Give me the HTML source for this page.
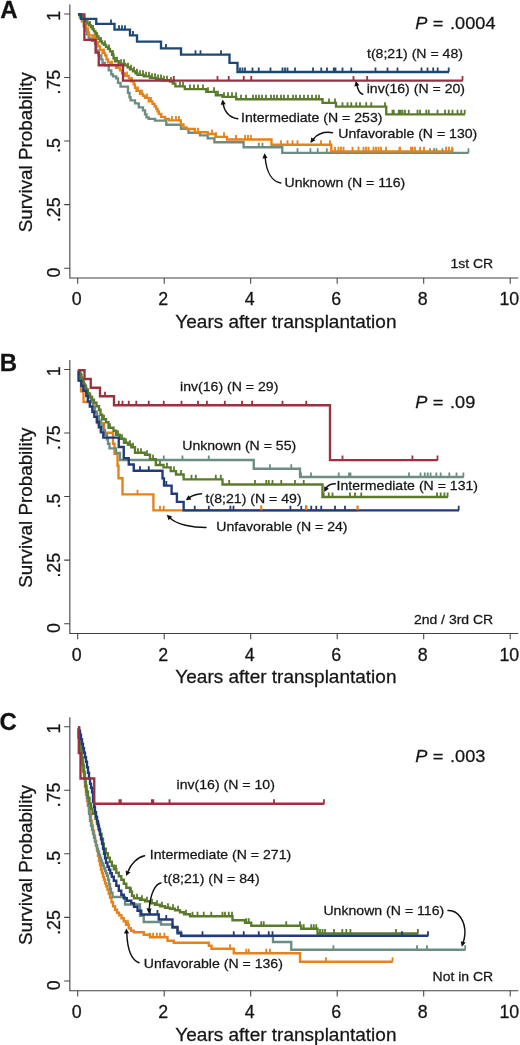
<!DOCTYPE html>
<html><head><meta charset="utf-8"><title>Survival</title>
<style>html,body{margin:0;padding:0;background:#fff}svg{display:block;will-change:transform}text{font-family:"Liberation Sans",sans-serif;stroke:#1a1a1a;stroke-width:.28px}</style>
</head><body>
<svg width="520" height="1045" viewBox="0 0 520 1045">
<rect width="520" height="1045" fill="#fff"/>
<path d="M69.85 4.50 V278.00 H518.3" fill="none" stroke="#424242" stroke-width="1.1"/>
<path d="M64.2 13.90 H69.85M64.2 77.48 H69.85M64.2 141.06 H69.85M64.2 204.64 H69.85M64.2 268.22 H69.85M77.70 278.00 v5.8M164.20 278.00 v5.8M250.70 278.00 v5.8M337.20 278.00 v5.8M423.70 278.00 v5.8M510.20 278.00 v5.8" fill="none" stroke="#424242" stroke-width="1.05"/>
<text transform="translate(76.80 305.10) scale(1 1.000)" font-size="17.8" text-anchor="middle" fill="#141414" >0</text>
<text transform="translate(163.30 305.10) scale(1 1.000)" font-size="17.8" text-anchor="middle" fill="#141414" >2</text>
<text transform="translate(249.80 305.10) scale(1 1.000)" font-size="17.8" text-anchor="middle" fill="#141414" >4</text>
<text transform="translate(336.30 305.10) scale(1 1.000)" font-size="17.8" text-anchor="middle" fill="#141414" >6</text>
<text transform="translate(422.80 305.10) scale(1 1.000)" font-size="17.8" text-anchor="middle" fill="#141414" >8</text>
<text transform="translate(509.30 305.10) scale(1 1.000)" font-size="17.8" text-anchor="middle" fill="#141414" >10</text>
<text transform="translate(285.90 327.80) scale(1 1.000)" font-size="19.0" text-anchor="middle" fill="#141414" >Years after transplantation</text>
<text transform="translate(60.1 15.80) rotate(-90) scale(1 1.05)" font-size="17.8" text-anchor="middle" fill="#141414">1</text>
<text transform="translate(60.1 82.10) rotate(-90) scale(1 1.05)" font-size="17.8" text-anchor="middle" fill="#141414">.75</text>
<text transform="translate(60.1 145.40) rotate(-90) scale(1 1.05)" font-size="17.8" text-anchor="middle" fill="#141414">.5</text>
<text transform="translate(60.1 209.70) rotate(-90) scale(1 1.05)" font-size="17.8" text-anchor="middle" fill="#141414">.25</text>
<text transform="translate(60.1 272.50) rotate(-90) scale(1 1.05)" font-size="17.8" text-anchor="middle" fill="#141414">0</text>
<text transform="translate(32.1 152.20) rotate(-90)" font-size="18.82" text-anchor="middle" fill="#141414">Survival Probability</text>
<text x="0.30" y="17.50" font-size="24" font-weight="bold" fill="#111">A</text>
<text transform="translate(493.20 268.00) scale(1 0.950)" font-size="14" text-anchor="end" fill="#141414" >1st CR</text>
<path d="M78.00 14.40 H80.00 V17.40 H82.00 V21.40 H83.75 V26.40 H85.00 V30.40 H87.00 V34.40 H88.75 V38.40 H92.00 V40.90 H95.00 V43.40 H96.25 V50.40 H98.50 V55.40 H101.25 V59.40 H102.50 V62.90 H105.00 V65.40 H108.75 V70.40 H111.25 V74.40 H113.00 V76.40 H116.25 V78.40 H118.00 V82.90 H120.50 V86.65 H128.00 V92.90 H129.50 V97.40 H130.60 V100.40 H135.00 V103.40 H138.75 V107.40 H143.00 V110.40 H145.00 V114.40 H146.50 V117.40 H148.75 V118.90 H155.00 V120.60 H166.30 V124.70 H181.00 V128.90 H188.50 V132.70 H200.00 V135.40 H207.70 V138.40 H214.40 V142.20 H243.60 V147.20 H282.30 V152.80 H468.75" fill="none" stroke="#6d8d83" stroke-width="2.35" stroke-linejoin="miter"/>
<path d="M258.75 147.20 v-4.5M262.50 147.20 v-4.5M297.50 152.80 v-4.5M310.40 152.80 v-4.5M317.70 152.80 v-4.5M326.80 152.80 v-4.5M430.00 152.80 v-4.5M434.00 152.80 v-4.5M436.50 152.80 v-4.5M442.50 152.80 v-4.5M452.50 152.80 v-4.5M468.45 152.80 v-4.5" fill="none" stroke="#6d8d83" stroke-width="1.8"/>
<path d="M78.00 14.40 H80.00 V17.40 H82.00 V20.90 H84.00 V24.40 H86.25 V28.40 H88.00 V32.40 H89.00 V35.40 H93.00 V37.90 H96.25 V42.40 H98.00 V46.40 H100.00 V49.90 H102.50 V52.90 H105.00 V55.40 H106.50 V59.40 H108.00 V62.40 H110.50 V64.90 H116.00 V67.90 H120.00 V70.40 H122.00 V73.40 H125.00 V75.90 H128.75 V78.40 H131.00 V81.40 H133.75 V84.40 H135.00 V87.90 H136.50 V90.90 H140.00 V93.90 H143.00 V95.90 H145.00 V97.90 H148.75 V101.40 H152.50 V103.90 H154.50 V106.40 H156.25 V108.90 H157.50 V111.40 H158.75 V113.90 H161.25 V116.90 H165.00 V118.90 H169.00 V120.40 H180.80 V124.40 H183.50 V127.40 H186.50 V129.00 H195.00 V132.20 H207.70 V134.00 H215.40 V136.80 H227.00 V139.50 H271.50 V144.70 H331.30 V151.30 H452.50" fill="none" stroke="#e5821a" stroke-width="2.35" stroke-linejoin="miter"/>
<path d="M95.00 37.90 v-4.5M104.00 52.90 v-4.5M112.00 64.90 v-4.5M118.00 67.90 v-4.5M127.00 75.90 v-4.5M132.00 81.40 v-4.5M138.00 90.90 v-4.5M142.00 93.90 v-4.5M147.00 97.90 v-4.5M151.00 101.40 v-4.5M172.00 120.40 v-4.5M176.00 120.40 v-4.5M179.00 120.40 v-4.5M198.00 132.20 v-4.5M212.00 134.00 v-4.5M216.00 136.80 v-4.5M224.00 136.80 v-4.5M236.00 139.50 v-4.5M245.00 139.50 v-4.5M248.00 139.50 v-4.5M251.00 139.50 v-4.5M281.00 144.70 v-4.5M287.50 144.70 v-4.5M292.50 144.70 v-4.5M297.50 144.70 v-4.5M321.00 144.70 v-4.5M330.00 144.70 v-4.5M335.00 151.30 v-4.5M338.50 151.30 v-4.5M341.00 151.30 v-4.5M343.50 151.30 v-4.5M352.50 151.30 v-4.5M358.50 151.30 v-4.5M363.50 151.30 v-4.5M366.00 151.30 v-4.5M368.50 151.30 v-4.5M373.50 151.30 v-4.5M376.00 151.30 v-4.5M378.50 151.30 v-4.5M381.00 151.30 v-4.5M386.00 151.30 v-4.5M400.00 151.30 v-4.5M412.50 151.30 v-4.5M415.00 151.30 v-4.5M420.00 151.30 v-4.5M424.00 151.30 v-4.5M399.50 151.30 v-4.5M411.00 151.30 v-4.5M446.00 151.30 v-4.5M449.00 151.30 v-4.5M452.20 151.30 v-4.5" fill="none" stroke="#e5821a" stroke-width="1.8"/>
<path d="M78.00 14.40 H80.00 V15.40 H82.00 V17.40 H84.00 V19.40 H86.00 V21.40 H87.50 V23.40 H89.00 V25.40 H91.00 V27.40 H92.50 V29.40 H94.00 V31.40 H95.50 V33.90 H97.00 V36.40 H98.50 V38.90 H100.00 V41.40 H102.00 V43.40 H104.00 V44.90 H106.00 V46.90 H108.00 V48.90 H110.00 V51.40 H112.00 V54.70 H113.50 V58.20 H115.00 V61.20 H118.75 V63.80 H125.00 V65.30 H127.50 V67.30 H130.00 V69.30 H133.00 V71.30 H135.50 V73.30 H137.50 V74.80 H143.75 V76.30 H150.00 V77.80 H156.00 V79.00 H162.50 V80.20 H170.00 V81.60 H172.80 V83.60 H175.40 V86.40 H184.80 V89.10 H206.30 V91.80 H215.80 V95.20 H222.50 V96.80 H236.20 V99.20 H322.50 V102.90 H336.00 V106.65 H386.25 V114.30 H465.00" fill="none" stroke="#5b7b2c" stroke-width="2.35" stroke-linejoin="miter"/>
<path d="M90.00 25.40 v-4.5M93.00 29.40 v-4.5M97.00 36.40 v-4.5M101.00 41.40 v-4.5M105.00 44.90 v-4.5M109.00 48.90 v-4.5M113.00 54.70 v-4.5M117.00 61.20 v-4.5M121.00 63.80 v-4.5M124.00 63.80 v-4.5M128.00 67.30 v-4.5M131.00 69.30 v-4.5M134.00 71.30 v-4.5M137.00 73.30 v-4.5M140.00 74.80 v-4.5M143.00 74.80 v-4.5M146.00 76.30 v-4.5M149.00 76.30 v-4.5M152.00 77.80 v-4.5M155.00 77.80 v-4.5M158.00 79.00 v-4.5M161.00 79.00 v-4.5M164.00 80.20 v-4.5M167.00 80.20 v-4.5M171.00 81.60 v-4.5M174.00 83.60 v-4.5M180.00 86.40 v-4.5M183.00 86.40 v-4.5M190.00 89.10 v-4.5M194.00 89.10 v-4.5M198.00 89.10 v-4.5M203.00 89.10 v-4.5M208.00 91.80 v-4.5M214.00 91.80 v-4.5M218.00 95.20 v-4.5M224.00 96.80 v-4.5M228.00 96.80 v-4.5M232.00 96.80 v-4.5M236.00 96.80 v-4.5M241.00 99.20 v-4.5M246.00 99.20 v-4.5M253.00 99.20 v-4.5M256.00 99.20 v-4.5M259.00 99.20 v-4.5M262.00 99.20 v-4.5M266.00 99.20 v-4.5M271.00 99.20 v-4.5M274.00 99.20 v-4.5M277.00 99.20 v-4.5M281.00 99.20 v-4.5M284.00 99.20 v-4.5M288.00 99.20 v-4.5M293.00 99.20 v-4.5M296.00 99.20 v-4.5M300.00 99.20 v-4.5M304.00 99.20 v-4.5M308.00 99.20 v-4.5M312.00 99.20 v-4.5M316.00 99.20 v-4.5M319.00 99.20 v-4.5M329.00 102.90 v-4.5M335.00 102.90 v-4.5M342.50 106.65 v-4.5M347.50 106.65 v-4.5M351.25 106.65 v-4.5M356.25 106.65 v-4.5M360.00 106.65 v-4.5M366.25 106.65 v-4.5M371.25 106.65 v-4.5M385.00 106.65 v-4.5M392.50 114.30 v-4.5M393.75 114.30 v-4.5M398.75 114.30 v-4.5M400.50 114.30 v-4.5M402.50 114.30 v-4.5M405.00 114.30 v-4.5M408.75 114.30 v-4.5M417.50 114.30 v-4.5M420.00 114.30 v-4.5M426.25 114.30 v-4.5M428.75 114.30 v-4.5M437.50 114.30 v-4.5M445.00 114.30 v-4.5M448.75 114.30 v-4.5M452.50 114.30 v-4.5M457.50 114.30 v-4.5M461.25 114.30 v-4.5M464.70 114.30 v-4.5" fill="none" stroke="#5b7b2c" stroke-width="1.8"/>
<path d="M78.00 14.40 H84.40 V39.80 H95.60 V52.50 H98.75 V65.20 H123.00 V80.60 H462.80" fill="none" stroke="#9a3040" stroke-width="2.35" stroke-linejoin="miter"/>
<path d="M173.75 80.60 v-4.5M217.50 80.60 v-4.5M228.75 80.60 v-4.5M243.75 80.60 v-4.5M251.25 80.60 v-4.5M353.50 80.60 v-4.5M367.20 80.60 v-4.5M462.50 80.60 v-4.5" fill="none" stroke="#9a3040" stroke-width="1.8"/>
<path d="M78.00 14.40 H81.00 V18.90 H96.25 V23.90 H114.50 V29.65 H130.00 V35.40 H137.00 V41.65 H161.00 V48.40 H181.00 V54.65 H229.50 V62.90 H237.50 V72.00 H449.00" fill="none" stroke="#1c4873" stroke-width="2.35" stroke-linejoin="miter"/>
<path d="M111.00 23.90 v-4.5M119.00 29.65 v-4.5M122.00 29.65 v-4.5M125.00 29.65 v-4.5M133.00 35.40 v-4.5M166.00 48.40 v-4.5M195.50 54.65 v-4.5M200.50 54.65 v-4.5M221.00 54.65 v-4.5M240.00 72.00 v-4.5M242.50 72.00 v-4.5M245.00 72.00 v-4.5M252.50 72.00 v-4.5M258.75 72.00 v-4.5M270.50 72.00 v-4.5M282.50 72.00 v-4.5M285.00 72.00 v-4.5M287.50 72.00 v-4.5M295.00 72.00 v-4.5M313.00 72.00 v-4.5M321.25 72.00 v-4.5M327.00 72.00 v-4.5M333.75 72.00 v-4.5M335.50 72.00 v-4.5M342.50 72.00 v-4.5M351.25 72.00 v-4.5M375.50 72.00 v-4.5M387.50 72.00 v-4.5M397.50 72.00 v-4.5M421.50 72.00 v-4.5M427.50 72.00 v-4.5M433.20 72.00 v-4.5M437.70 72.00 v-4.5M448.70 72.00 v-4.5" fill="none" stroke="#1c4873" stroke-width="1.8"/>
<text transform="translate(367.00 58.20) scale(1 0.950)" font-size="14.1" text-anchor="start" fill="#141414" >t(8;21) (N = 48)</text>
<text transform="translate(366.70 93.40) scale(1 0.950)" font-size="14.1" text-anchor="start" fill="#141414" >inv(16) (N = 20)</text>
<text transform="translate(241.00 121.90) scale(1 0.950)" font-size="14.1" text-anchor="start" fill="#141414" >Intermediate (N = 253)</text>
<text transform="translate(338.20 138.20) scale(1 0.950)" font-size="14.1" text-anchor="start" fill="#141414" >Unfavorable (N = 130)</text>
<text transform="translate(284.50 186.80) scale(1 0.950)" font-size="14.1" text-anchor="start" fill="#141414" >Unknown (N = 116)</text>
<g transform="translate(0 28.90) scale(1 0.93)" font-size="18.2" fill="#141414"><text x="415.3" y="0" font-style="italic">P</text><text x="432.7" y="0">=</text><text x="450.0" y="0">.0004</text></g>
<path d="M237.7 118.8 C229 117.5 224 111 223.1 103.5" fill="none" stroke="#111" stroke-width="1.45" stroke-linecap="round"/>
<path d="M0.3 0 L-4.8 -2.6 L-4.8 2.6 Z" fill="#111" transform="translate(222.70 99.70) rotate(-96.0)"/>
<path d="M362.7 94.3 C359.8 93.2 357.8 89.5 357 85.3" fill="none" stroke="#111" stroke-width="1.45" stroke-linecap="round"/>
<path d="M0.3 0 L-4.8 -2.6 L-4.8 2.6 Z" fill="#111" transform="translate(355.90 81.20) rotate(-102.0)"/>
<path d="M332.5 132.7 C323 131 316 135 313.5 139" fill="none" stroke="#111" stroke-width="1.45" stroke-linecap="round"/>
<path d="M0.3 0 L-4.8 -2.6 L-4.8 2.6 Z" fill="#111" transform="translate(310.60 142.80) rotate(125.0)"/>
<path d="M280.8 183 C272 181.5 266.5 172 265.2 158" fill="none" stroke="#111" stroke-width="1.45" stroke-linecap="round"/>
<path d="M0.3 0 L-4.8 -2.6 L-4.8 2.6 Z" fill="#111" transform="translate(264.60 153.50) rotate(-94.0)"/>
<path d="M69.85 360.00 V633.50 H518.3" fill="none" stroke="#424242" stroke-width="1.1"/>
<path d="M64.2 369.40 H69.85M64.2 432.98 H69.85M64.2 496.56 H69.85M64.2 560.14 H69.85M64.2 623.72 H69.85M77.70 633.50 v5.8M164.20 633.50 v5.8M250.70 633.50 v5.8M337.20 633.50 v5.8M423.70 633.50 v5.8M510.20 633.50 v5.8" fill="none" stroke="#424242" stroke-width="1.05"/>
<text transform="translate(76.80 660.60) scale(1 1.000)" font-size="17.8" text-anchor="middle" fill="#141414" >0</text>
<text transform="translate(163.30 660.60) scale(1 1.000)" font-size="17.8" text-anchor="middle" fill="#141414" >2</text>
<text transform="translate(249.80 660.60) scale(1 1.000)" font-size="17.8" text-anchor="middle" fill="#141414" >4</text>
<text transform="translate(336.30 660.60) scale(1 1.000)" font-size="17.8" text-anchor="middle" fill="#141414" >6</text>
<text transform="translate(422.80 660.60) scale(1 1.000)" font-size="17.8" text-anchor="middle" fill="#141414" >8</text>
<text transform="translate(509.30 660.60) scale(1 1.000)" font-size="17.8" text-anchor="middle" fill="#141414" >10</text>
<text transform="translate(285.90 683.30) scale(1 1.000)" font-size="19.0" text-anchor="middle" fill="#141414" >Years after transplantation</text>
<text transform="translate(60.1 371.30) rotate(-90) scale(1 1.05)" font-size="17.8" text-anchor="middle" fill="#141414">1</text>
<text transform="translate(60.1 437.60) rotate(-90) scale(1 1.05)" font-size="17.8" text-anchor="middle" fill="#141414">.75</text>
<text transform="translate(60.1 500.90) rotate(-90) scale(1 1.05)" font-size="17.8" text-anchor="middle" fill="#141414">.5</text>
<text transform="translate(60.1 565.20) rotate(-90) scale(1 1.05)" font-size="17.8" text-anchor="middle" fill="#141414">.25</text>
<text transform="translate(60.1 628.00) rotate(-90) scale(1 1.05)" font-size="17.8" text-anchor="middle" fill="#141414">0</text>
<text transform="translate(32.1 507.70) rotate(-90)" font-size="18.82" text-anchor="middle" fill="#141414">Survival Probability</text>
<text x="-0.20" y="371.20" font-size="24" font-weight="bold" fill="#111">B</text>
<text transform="translate(493.20 623.50) scale(1 0.950)" font-size="14" text-anchor="end" fill="#141414" >2nd / 3rd CR</text>
<path d="M78.00 370.20 H79.50 V380.80 H81.00 V391.40 H83.50 V401.95 H93.50 V412.50 H97.00 V423.10 H104.00 V432.70 H113.00 V443.70 H114.50 V453.70 H117.50 V465.70 H118.50 V478.20 H122.50 V494.30 H153.40 V510.30 H358.00" fill="none" stroke="#e5821a" stroke-width="2.35" stroke-linejoin="miter"/>
<path d="M137.50 494.30 v-4.5M160.00 510.30 v-4.5M163.75 510.30 v-4.5M261.25 510.30 v-4.5M306.25 510.30 v-4.5M357.70 510.30 v-4.5" fill="none" stroke="#e5821a" stroke-width="1.8"/>
<path d="M78.00 370.20 H80.00 V374.70 H81.50 V379.40 H83.00 V384.00 H85.00 V388.70 H87.00 V393.20 H89.00 V397.70 H91.00 V402.40 H93.00 V407.00 H95.00 V411.70 H97.00 V416.20 H99.00 V420.70 H101.00 V425.40 H103.00 V430.00 H105.00 V434.70 H107.00 V439.20 H108.00 V443.70 H109.50 V448.40 H116.00 V453.00 H120.00 V460.00 H253.75 V468.70 H300.00 V476.95 H463.70" fill="none" stroke="#6d8d83" stroke-width="2.35" stroke-linejoin="miter"/>
<path d="M163.75 460.00 v-4.5M182.50 460.00 v-4.5M208.75 460.00 v-4.5M270.00 468.70 v-4.5M291.25 468.70 v-4.5M301.00 476.95 v-4.5M311.00 476.95 v-4.5M338.75 476.95 v-4.5M349.00 476.95 v-4.5M350.50 476.95 v-4.5M409.00 476.95 v-4.5M420.50 476.95 v-4.5M424.80 476.95 v-4.5M427.70 476.95 v-4.5M430.60 476.95 v-4.5M436.30 476.95 v-4.5M440.70 476.95 v-4.5M449.30 476.95 v-4.5M456.50 476.95 v-4.5M463.40 476.95 v-4.5" fill="none" stroke="#6d8d83" stroke-width="1.8"/>
<path d="M78.00 370.20 H79.50 V373.70 H81.00 V377.70 H82.50 V381.70 H84.00 V385.70 H86.00 V389.70 H88.00 V393.70 H90.00 V396.70 H92.00 V399.70 H94.00 V402.70 H96.50 V406.20 H99.00 V409.70 H100.50 V414.70 H102.25 V419.20 H106.00 V422.20 H108.50 V427.70 H113.50 V430.70 H116.00 V434.70 H119.75 V438.70 H124.00 V442.70 H128.00 V444.70 H131.25 V447.20 H135.00 V452.70 H145.00 V454.70 H150.00 V459.20 H155.80 V465.00 H163.50 V467.30 H170.70 V471.10 H176.00 V474.50 H183.65 V479.30 H222.50 V484.45 H322.50 V497.00 H447.90" fill="none" stroke="#5b7b2c" stroke-width="2.35" stroke-linejoin="miter"/>
<path d="M104.00 419.20 v-4.5M110.00 427.70 v-4.5M118.00 434.70 v-4.5M122.00 438.70 v-4.5M126.00 442.70 v-4.5M130.00 444.70 v-4.5M133.00 447.20 v-4.5M138.00 452.70 v-4.5M141.00 452.70 v-4.5M147.00 454.70 v-4.5M153.00 459.20 v-4.5M160.00 465.00 v-4.5M167.00 467.30 v-4.5M174.00 471.10 v-4.5M181.00 474.50 v-4.5M191.50 479.30 v-4.5M195.80 479.30 v-4.5M215.80 479.30 v-4.5M220.80 479.30 v-4.5M229.20 484.45 v-4.5M255.00 484.45 v-4.5M266.25 484.45 v-4.5M268.75 484.45 v-4.5M272.50 484.45 v-4.5M281.25 484.45 v-4.5M295.00 484.45 v-4.5M303.75 484.45 v-4.5M323.75 497.00 v-4.5M328.75 497.00 v-4.5M332.50 497.00 v-4.5M350.00 497.00 v-4.5M355.00 497.00 v-4.5M361.25 497.00 v-4.5M437.00 497.00 v-4.5M440.70 497.00 v-4.5M444.40 497.00 v-4.5M447.60 497.00 v-4.5" fill="none" stroke="#5b7b2c" stroke-width="1.8"/>
<path d="M78.00 370.20 H78.50 V380.60 H81.30 V385.70 H83.30 V390.90 H86.30 V396.10 H87.80 V401.30 H89.80 V406.50 H92.30 V411.70 H94.30 V416.80 H96.80 V422.00 H98.80 V427.20 H100.80 V432.40 H103.30 V437.60 H118.75 V446.95 H123.75 V458.20 H128.75 V464.45 H133.75 V470.70 H162.50 V478.30 H164.00 V485.60 H171.60 V493.70 H176.90 V501.90 H183.65 V510.30 H459.00" fill="none" stroke="#213a78" stroke-width="2.35" stroke-linejoin="miter"/>
<path d="M140.00 470.70 v-4.5M148.75 470.70 v-4.5M166.30 485.60 v-4.5M194.70 510.30 v-4.5M208.80 510.30 v-4.5M230.40 510.30 v-4.5M233.50 510.30 v-4.5M290.40 510.30 v-4.5M301.25 510.30 v-4.5M306.25 510.30 v-4.5M311.25 510.30 v-4.5M316.25 510.30 v-4.5M321.25 510.30 v-4.5M335.00 510.30 v-4.5M345.00 510.30 v-4.5M458.70 510.30 v-4.5" fill="none" stroke="#213a78" stroke-width="1.8"/>
<path d="M261.25 510.30 v-4.8M306.25 510.30 v-4.8M357.5 510.30 v-4.8" fill="none" stroke="#e5821a" stroke-width="1.8"/>
<path d="M78.00 370.20 H84.50 V379.00 H90.75 V387.70 H100.00 V396.20 H114.00 V405.20 H330.00 V460.10 H437.80" fill="none" stroke="#9a3040" stroke-width="2.35" stroke-linejoin="miter"/>
<path d="M105.00 396.20 v-4.5M118.75 405.20 v-4.5M122.50 405.20 v-4.5M128.75 405.20 v-4.5M136.25 405.20 v-4.5M148.75 405.20 v-4.5M163.75 405.20 v-4.5M181.50 405.20 v-4.5M198.00 405.20 v-4.5M206.90 405.20 v-4.5M224.80 405.20 v-4.5M242.00 405.20 v-4.5M252.10 405.20 v-4.5M282.50 405.20 v-4.5M306.25 405.20 v-4.5M342.50 460.10 v-4.5M412.40 460.10 v-4.5M437.50 460.10 v-4.5" fill="none" stroke="#9a3040" stroke-width="1.8"/>
<text transform="translate(180.00 391.30) scale(1 0.950)" font-size="14.1" text-anchor="start" fill="#141414" >inv(16) (N = 29)</text>
<text transform="translate(182.20 449.80) scale(1 0.950)" font-size="14.1" text-anchor="start" fill="#141414" >Unknown (N = 55)</text>
<text transform="translate(336.60 490.20) scale(1 0.950)" font-size="14.1" text-anchor="start" fill="#141414" >Intermediate (N = 131)</text>
<text transform="translate(205.60 502.60) scale(1 0.950)" font-size="14.1" text-anchor="start" fill="#141414" >t(8;21) (N = 49)</text>
<text transform="translate(216.25 530.50) scale(1 0.950)" font-size="14.1" text-anchor="start" fill="#141414" >Unfavorable (N = 24)</text>
<g transform="translate(0 407.90) scale(1 0.93)" font-size="18.2" fill="#141414"><text x="415.3" y="0" font-style="italic">P</text><text x="432.7" y="0">=</text><text x="450.0" y="0">.09</text></g>
<path d="M335.4 483.7 C330.5 483.8 327.5 485.5 326 488.3" fill="none" stroke="#111" stroke-width="1.45" stroke-linecap="round"/>
<path d="M0.3 0 L-4.8 -2.6 L-4.8 2.6 Z" fill="#111" transform="translate(324.30 491.80) rotate(118.0)"/>
<path d="M201.5 493.7 C196.5 494 192 495.6 189.3 497.6" fill="none" stroke="#111" stroke-width="1.45" stroke-linecap="round"/>
<path d="M0.3 0 L-4.8 -2.6 L-4.8 2.6 Z" fill="#111" transform="translate(186.00 500.10) rotate(145.0)"/>
<path d="M206 527.5 C192 527.5 177 524.5 170.3 518.2" fill="none" stroke="#111" stroke-width="1.45" stroke-linecap="round"/>
<path d="M0.3 0 L-4.8 -2.6 L-4.8 2.6 Z" fill="#111" transform="translate(167.00 515.00) rotate(-135.0)"/>
<path d="M69.85 717.25 V990.75 H518.3" fill="none" stroke="#424242" stroke-width="1.1"/>
<path d="M64.2 726.65 H69.85M64.2 790.23 H69.85M64.2 853.81 H69.85M64.2 917.39 H69.85M64.2 980.97 H69.85M77.70 990.75 v5.8M164.20 990.75 v5.8M250.70 990.75 v5.8M337.20 990.75 v5.8M423.70 990.75 v5.8M510.20 990.75 v5.8" fill="none" stroke="#424242" stroke-width="1.05"/>
<text transform="translate(76.80 1017.85) scale(1 1.000)" font-size="17.8" text-anchor="middle" fill="#141414" >0</text>
<text transform="translate(163.30 1017.85) scale(1 1.000)" font-size="17.8" text-anchor="middle" fill="#141414" >2</text>
<text transform="translate(249.80 1017.85) scale(1 1.000)" font-size="17.8" text-anchor="middle" fill="#141414" >4</text>
<text transform="translate(336.30 1017.85) scale(1 1.000)" font-size="17.8" text-anchor="middle" fill="#141414" >6</text>
<text transform="translate(422.80 1017.85) scale(1 1.000)" font-size="17.8" text-anchor="middle" fill="#141414" >8</text>
<text transform="translate(509.30 1017.85) scale(1 1.000)" font-size="17.8" text-anchor="middle" fill="#141414" >10</text>
<text transform="translate(285.90 1040.55) scale(1 1.000)" font-size="19.0" text-anchor="middle" fill="#141414" >Years after transplantation</text>
<text transform="translate(60.1 728.55) rotate(-90) scale(1 1.05)" font-size="17.8" text-anchor="middle" fill="#141414">1</text>
<text transform="translate(60.1 794.85) rotate(-90) scale(1 1.05)" font-size="17.8" text-anchor="middle" fill="#141414">.75</text>
<text transform="translate(60.1 858.15) rotate(-90) scale(1 1.05)" font-size="17.8" text-anchor="middle" fill="#141414">.5</text>
<text transform="translate(60.1 922.45) rotate(-90) scale(1 1.05)" font-size="17.8" text-anchor="middle" fill="#141414">.25</text>
<text transform="translate(60.1 985.25) rotate(-90) scale(1 1.05)" font-size="17.8" text-anchor="middle" fill="#141414">0</text>
<text transform="translate(32.1 864.95) rotate(-90)" font-size="18.82" text-anchor="middle" fill="#141414">Survival Probability</text>
<text x="-0.50" y="730.00" font-size="24" font-weight="bold" fill="#111">C</text>
<text transform="translate(493.20 980.75) scale(1 0.950)" font-size="14" text-anchor="end" fill="#141414" >Not in CR</text>
<path d="M78.00 727.70 H79.00 V735.70 H80.00 V745.70 H81.00 V754.70 H82.00 V762.70 H83.00 V770.70 H84.00 V778.70 H85.00 V786.70 H86.00 V794.70 H87.00 V800.70 H88.00 V805.70 H89.00 V810.70 H90.00 V815.70 H91.00 V820.70 H92.00 V825.70 H93.00 V830.70 H94.00 V835.70 H95.00 V840.70 H96.00 V845.70 H97.00 V850.70 H98.00 V855.70 H99.00 V860.70 H100.00 V865.20 H101.00 V869.70 H102.00 V873.20 H103.00 V876.70 H104.00 V879.70 H105.00 V883.20 H106.25 V886.20 H107.50 V889.70 H108.75 V893.70 H110.00 V897.70 H111.50 V902.20 H113.00 V906.20 H115.00 V909.70 H117.00 V912.70 H119.00 V915.20 H121.50 V918.20 H123.75 V921.20 H126.00 V924.70 H128.75 V928.20 H131.00 V930.70 H133.75 V932.20 H143.75 V934.70 H150.00 V937.20 H167.50 V940.70 H173.75 V942.70 H208.75 V945.70 H211.50 V948.70 H233.75 V953.20 H300.00 V961.70 H392.80" fill="none" stroke="#e5821a" stroke-width="2.35" stroke-linejoin="miter"/>
<path d="M128.00 924.70 v-4.5M150.00 937.20 v-4.5M153.10 937.20 v-4.5M156.90 937.20 v-4.5M160.00 937.20 v-4.5M164.40 937.20 v-4.5M230.00 948.70 v-4.5M246.25 953.20 v-4.5M248.75 953.20 v-4.5M266.25 953.20 v-4.5M270.00 953.20 v-4.5M326.00 961.70 v-4.5M392.50 961.70 v-4.5" fill="none" stroke="#e5821a" stroke-width="1.8"/>
<path d="M78.00 727.70 H79.00 V733.70 H80.00 V741.70 H81.00 V749.70 H82.00 V757.70 H83.00 V765.70 H84.00 V773.70 H85.00 V781.70 H86.00 V789.70 H87.00 V797.70 H88.00 V805.70 H89.00 V813.70 H90.00 V820.70 H91.00 V825.70 H92.00 V829.70 H93.00 V833.70 H94.00 V837.70 H95.00 V841.70 H96.00 V845.20 H97.00 V848.70 H98.00 V851.70 H99.00 V854.70 H100.00 V857.70 H101.00 V860.70 H102.00 V863.20 H103.00 V865.70 H104.00 V868.20 H105.00 V870.70 H106.00 V873.20 H107.00 V875.70 H108.00 V879.70 H109.00 V884.20 H110.00 V888.70 H111.00 V892.70 H112.50 V896.95 H125.00 V904.45 H140.00 V915.70 H143.75 V921.95 H161.00 V924.45 H172.50 V927.70 H177.50 V931.70 H181.00 V936.10 H273.00 V941.95 H291.25 V949.70 H465.50" fill="none" stroke="#6d8d83" stroke-width="2.35" stroke-linejoin="miter"/>
<path d="M333.40 949.70 v-4.5M417.00 949.70 v-4.5M427.00 949.70 v-4.5M465.20 949.70 v-4.5" fill="none" stroke="#6d8d83" stroke-width="1.8"/>
<path d="M78.00 727.70 H79.00 V731.70 H78.50 V737.70 H79.50 V743.70 H80.50 V750.70 H81.50 V757.70 H82.50 V764.70 H83.50 V771.70 H84.50 V778.70 H85.50 V785.70 H86.50 V791.70 H88.00 V797.70 H89.50 V803.70 H91.00 V808.70 H92.50 V813.70 H95.50 V818.70 H97.00 V823.70 H98.50 V828.70 H100.00 V833.70 H101.50 V838.70 H103.00 V843.70 H103.80 V848.70 H105.80 V853.20 H107.80 V857.70 H109.80 V861.70 H111.80 V865.70 H113.80 V869.20 H116.30 V872.70 H118.80 V876.20 H121.30 V879.70 H123.80 V883.70 H126.30 V887.70 H130.00 V891.70 H132.00 V895.70 H134.00 V898.20 H140.00 V899.70 H145.00 V901.20 H150.00 V903.20 H155.00 V904.70 H160.00 V906.20 H165.00 V907.70 H170.00 V908.70 H175.00 V910.20 H180.00 V912.20 H184.00 V914.20 H190.00 V916.20 H232.50 V920.20 H245.00 V922.70 H251.25 V925.70 H301.25 V928.70 H317.50 V933.50 H418.20" fill="none" stroke="#5b7b2c" stroke-width="2.35" stroke-linejoin="miter"/>
<path d="M108.00 857.70 v-4.5M116.00 869.20 v-4.5M124.00 883.70 v-4.5M131.00 891.70 v-4.5M137.00 898.20 v-4.5M142.00 899.70 v-4.5M147.00 901.20 v-4.5M152.00 903.20 v-4.5M157.00 904.70 v-4.5M162.00 906.20 v-4.5M168.00 907.70 v-4.5M173.00 908.70 v-4.5M178.00 910.20 v-4.5M186.00 914.20 v-4.5M192.50 916.20 v-4.5M197.50 916.20 v-4.5M203.75 916.20 v-4.5M211.25 916.20 v-4.5M222.50 916.20 v-4.5M225.00 916.20 v-4.5M228.75 916.20 v-4.5M232.00 916.20 v-4.5M246.25 922.70 v-4.5M248.75 922.70 v-4.5M261.25 925.70 v-4.5M263.75 925.70 v-4.5M286.25 925.70 v-4.5M300.00 925.70 v-4.5M303.75 928.70 v-4.5M311.25 928.70 v-4.5M313.75 928.70 v-4.5M316.25 928.70 v-4.5M320.00 933.50 v-4.5M322.50 933.50 v-4.5M325.00 933.50 v-4.5M334.00 933.50 v-4.5M342.30 933.50 v-4.5M346.30 933.50 v-4.5M350.40 933.50 v-4.5M396.00 933.50 v-4.5M417.90 933.50 v-4.5" fill="none" stroke="#5b7b2c" stroke-width="1.8"/>
<path d="M78.00 727.70 H79.00 V730.70 H80.00 V734.70 H81.00 V739.20 H82.00 V743.70 H83.00 V748.20 H84.00 V752.70 H85.00 V757.20 H86.00 V761.70 H87.00 V767.20 H88.00 V772.70 H89.00 V778.20 H90.00 V783.70 H91.00 V787.70 H92.00 V792.20 H93.00 V796.70 H93.00 V801.70 H94.00 V806.70 H95.00 V812.20 H96.00 V816.70 H97.00 V821.20 H98.00 V825.70 H99.00 V830.20 H100.00 V834.70 H101.00 V839.20 H102.00 V843.70 H103.00 V848.70 H104.00 V853.70 H105.00 V858.20 H106.00 V862.70 H107.50 V866.70 H109.00 V869.70 H110.30 V873.20 H111.80 V876.70 H113.80 V880.70 H116.30 V885.70 H118.80 V890.70 H121.30 V894.70 H123.80 V898.20 H126.80 V900.70 H131.25 V903.20 H134.00 V906.70 H137.50 V910.70 H141.25 V914.45 H158.75 V919.45 H172.50 V926.95 H177.50 V933.20 H181.25 V935.70 H428.30" fill="none" stroke="#213a78" stroke-width="2.35" stroke-linejoin="miter"/>
<path d="M150.00 914.45 v-4.5M157.50 914.45 v-4.5M166.25 919.45 v-4.5M202.50 935.70 v-4.5M233.75 935.70 v-4.5M243.75 935.70 v-4.5M258.75 935.70 v-4.5M268.75 935.70 v-4.5M272.50 935.70 v-4.5M402.00 935.70 v-4.5M428.00 935.70 v-4.5" fill="none" stroke="#213a78" stroke-width="1.8"/>
<path d="M78.00 727.70 H78.80 V753.10 H80.50 V778.50 H94.25 V803.70 H324.20" fill="none" stroke="#9a3040" stroke-width="2.35" stroke-linejoin="miter"/>
<path d="M119.40 803.70 v-4.5M120.80 803.70 v-4.5M151.90 803.70 v-4.5M153.30 803.70 v-4.5M169.50 803.70 v-4.5M274.00 803.70 v-4.5M323.90 803.70 v-4.5" fill="none" stroke="#9a3040" stroke-width="1.8"/>
<text transform="translate(176.50 788.75) scale(1 0.950)" font-size="14.1" text-anchor="start" fill="#141414" >inv(16) (N = 10)</text>
<text transform="translate(149.80 858.90) scale(1 0.950)" font-size="14.1" text-anchor="start" fill="#141414" >Intermediate (N = 271)</text>
<text transform="translate(163.60 882.90) scale(1 0.950)" font-size="14.1" text-anchor="start" fill="#141414" >t(8;21) (N = 84)</text>
<text transform="translate(323.40 914.60) scale(1 0.950)" font-size="14.1" text-anchor="start" fill="#141414" >Unknown (N = 116)</text>
<text transform="translate(143.80 968.40) scale(1 0.950)" font-size="14.1" text-anchor="start" fill="#141414" >Unfavorable (N = 136)</text>
<g transform="translate(0 762.30) scale(1 0.93)" font-size="18.2" fill="#141414"><text x="415.3" y="0" font-style="italic">P</text><text x="432.7" y="0">=</text><text x="450.0" y="0">.003</text></g>
<path d="M144.6 855.8 C137 857.5 130.8 864 128.3 871" fill="none" stroke="#111" stroke-width="1.45" stroke-linecap="round"/>
<path d="M0.3 0 L-4.8 -2.6 L-4.8 2.6 Z" fill="#111" transform="translate(126.30 875.80) rotate(112.0)"/>
<path d="M161 883 C154.5 884 150.5 895 149.3 908" fill="none" stroke="#111" stroke-width="1.45" stroke-linecap="round"/>
<path d="M0.3 0 L-4.8 -2.6 L-4.8 2.6 Z" fill="#111" transform="translate(148.80 913.20) rotate(93.0)"/>
<path d="M448 910.5 C458.5 909.8 465.6 922 464.9 934 C464.6 938 463.9 940.5 463.2 942.5" fill="none" stroke="#111" stroke-width="1.45" stroke-linecap="round"/>
<path d="M0.3 0 L-4.8 -2.6 L-4.8 2.6 Z" fill="#111" transform="translate(461.90 946.50) rotate(106.0)"/>
<path d="M139 962.8 C130.5 959.5 127.3 946 126.8 933.5" fill="none" stroke="#111" stroke-width="1.45" stroke-linecap="round"/>
<path d="M0.3 0 L-4.8 -2.6 L-4.8 2.6 Z" fill="#111" transform="translate(126.40 928.70) rotate(-92.0)"/>
</svg></body></html>
